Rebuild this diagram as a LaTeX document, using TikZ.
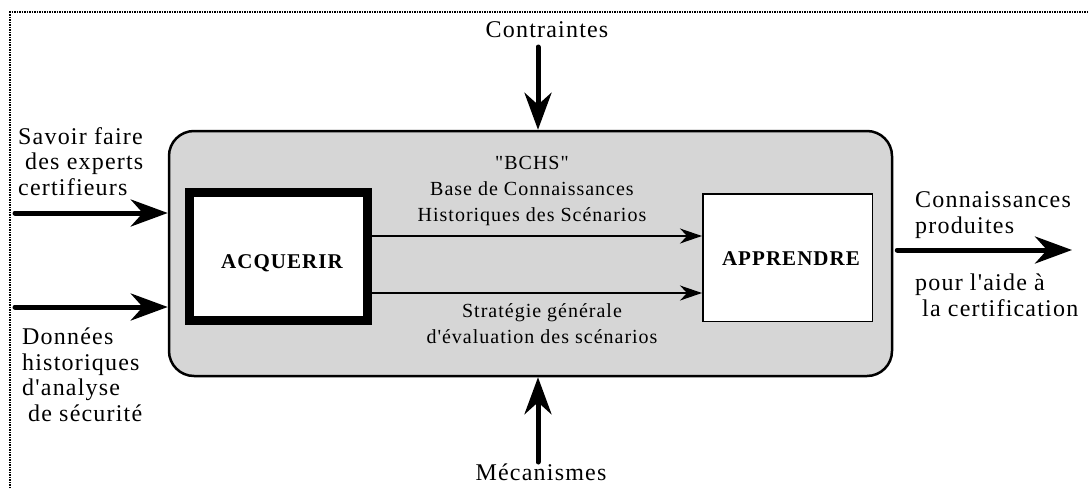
\documentclass[tikz,border=0pt]{standalone}
\usepackage{fontspec}
\setmainfont{Liberation Serif}[LetterSpace=5,Ligatures=TeXOff]
\usetikzlibrary{arrows.meta}
\begin{document}
\begin{tikzpicture}[x=1pt,y=-1pt,
 txt/.style={inner sep=0pt, align=left, anchor=base west, font=\fontsize{24}{25.5}\selectfont},
 ctxt/.style={inner sep=0pt, align=center, anchor=base, font=\fontsize{24}{25.5}\selectfont},
 intxt/.style={inner sep=0pt, align=center, anchor=base, font=\fontsize{20}{26}\selectfont},
 bigarrow/.style={line width=5pt, line cap=round, -{Stealth[length=37pt,width=27pt,inset=12pt]}},
 smallarrow/.style={line width=1.5pt, -{Stealth[length=22pt,width=15pt,inset=7pt]}},
 framestyle/.style={line width=1.5pt, dash pattern=on 1.5pt off 1pt},
 procbox/.style={draw, line width=2.5pt, rounded corners=25pt, fill=black!16},
 actbox/.style={draw, fill=white, inner sep=0pt},
 acttxt/.style={inner sep=0pt, anchor=base, font=\fontsize{21}{24}\selectfont\bfseries}
]
\useasboundingbox (0,0) rectangle (1088,488);
\fill[white] (0,0) rectangle (1088,488);
\coordinate (f1) at (10,488);
\coordinate (f2) at (10,12);
\coordinate (f3) at (1088,12);
\draw[framestyle] (f1) -- (f2) -- (f3);

\node[procbox, minimum width=723pt, minimum height=245pt] (proc) at (530.5,253.5) {};

\node[actbox, line width=9pt, minimum width=178pt, minimum height=128pt] (acq) at (278.5,256.5) {};
\node[acttxt] (acqt) at (282,268) {ACQUERIR};
\node[actbox, line width=1.5pt, minimum width=169.5pt, minimum height=127.5pt] (app) at (787.5,257.5) {};
\node[acttxt] (appt) at (791,265) {APPRENDRE};

\coordinate (ya) at (0,236);
\coordinate (yb) at (0,293);
\draw[smallarrow] (acq.east |- ya) -- (app.west |- ya);
\draw[smallarrow] (acq.east |- yb) -- (app.west |- yb);

% base anchor of a multi-line node = baseline of its last line
\node[intxt] (bchs) at (532,221) {"BCHS"\\Base de Connaissances\\Historiques des Scénarios};
\node[intxt] (strat) at (542,343) {Stratégie générale\\d'évaluation des scénarios};

\node[txt] (savoir) at (18,195) {Savoir faire\\\hspace*{7pt}des experts\\certifieurs};
\node[txt] (donnees) at (22,421) {Données\\historiques\\d'analyse\\\hspace*{6pt}de sécurité};
\node[txt] (conn) at (915,233) {Connaissances\\produites};
\node[txt] (pour) at (915,316) {pour l'aide à\\\hspace*{7pt}la certification};
\node[ctxt] (contr) at (547,37) {Contraintes};
\node[ctxt] (meca) at (541,480) {Mécanismes};

\coordinate (sa) at (15,213);
\draw[bigarrow] (sa) -- (sa -| proc.west);
\coordinate (da) at (15,307);
\draw[bigarrow] (da) -- (da -| proc.west);
\coordinate (ca) at (538,47);
\draw[bigarrow] (ca) -- (ca |- proc.north);
\coordinate (ma) at (538,462);
\draw[bigarrow] (ma) -- (ma |- proc.south);
\coordinate (oa) at (1072,250);
\draw[bigarrow, shorten <=4pt] (proc.east |- oa) -- (oa);
\end{tikzpicture}
\end{document}
